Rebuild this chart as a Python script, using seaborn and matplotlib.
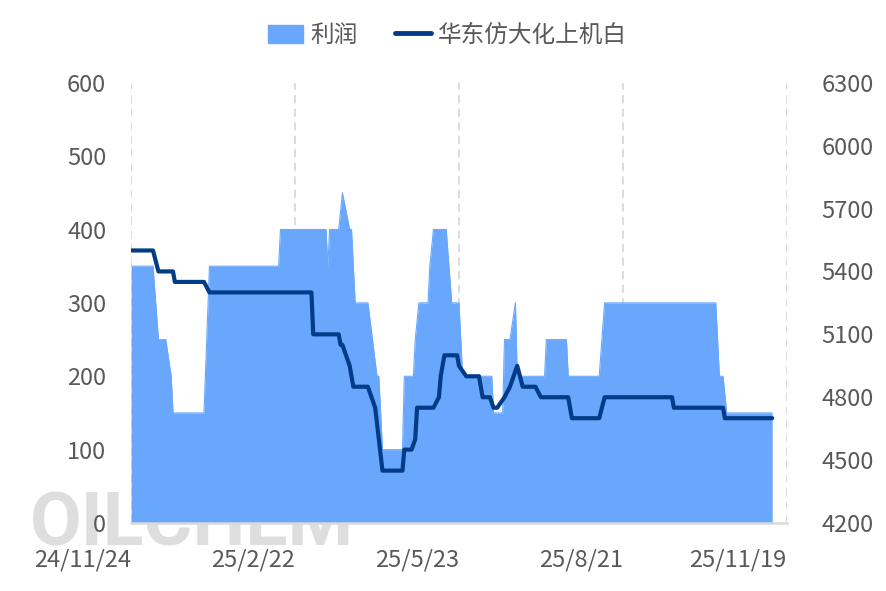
import pandas as pd
import matplotlib.pyplot as plt
import matplotlib.patches as mpatches
import matplotlib.lines as mlines
import seaborn as sns

# 利润 (left axis)
profit_dates = ['2024-11-24', '2024-12-06', '2024-12-09', '2024-12-13', '2024-12-16', '2024-12-17',
                '2025-01-03', '2025-01-06', '2025-02-13', '2025-02-14', '2025-03-11', '2025-03-12',
                '2025-03-13', '2025-03-18', '2025-03-20', '2025-03-24', '2025-03-25', '2025-03-27',
                '2025-04-03', '2025-04-08', '2025-04-09', '2025-04-11', '2025-04-22', '2025-04-23',
                '2025-04-28', '2025-04-29', '2025-05-01', '2025-05-06', '2025-05-07', '2025-05-09',
                '2025-05-16', '2025-05-19', '2025-05-23', '2025-05-25', '2025-06-10', '2025-06-11',
                '2025-06-16', '2025-06-17', '2025-06-20', '2025-06-23', '2025-06-24', '2025-07-09',
                '2025-07-10', '2025-07-21', '2025-07-22', '2025-08-08', '2025-08-11', '2025-10-11',
                '2025-10-13', '2025-10-15', '2025-10-17', '2025-11-11']
profit_values = [350, 350, 250, 250, 200, 150,
                 150, 350, 350, 400, 400, 350,
                 400, 400, 450, 400, 400, 300,
                 300, 200, 200, 100, 100, 200,
                 200, 250, 300, 300, 350, 400,
                 400, 300, 300, 200, 200, 150,
                 150, 250, 250, 300, 200, 200,
                 250, 250, 200, 200, 300, 300,
                 200, 200, 150, 150]

# 华东仿大化上机白 (right axis)
price_dates = ['2024-11-24', '2024-12-06', '2024-12-09', '2024-12-17', '2024-12-18', '2025-01-03',
               '2025-01-06', '2025-03-03', '2025-03-04', '2025-03-18', '2025-03-19', '2025-03-20',
               '2025-03-24', '2025-03-26', '2025-04-03', '2025-04-07', '2025-04-11', '2025-04-22',
               '2025-04-23', '2025-04-27', '2025-04-29', '2025-04-30', '2025-05-09', '2025-05-12',
               '2025-05-13', '2025-05-15', '2025-05-22', '2025-05-23', '2025-05-27', '2025-06-03',
               '2025-06-05', '2025-06-09', '2025-06-11', '2025-06-13', '2025-06-17', '2025-06-20',
               '2025-06-24', '2025-06-27', '2025-07-04', '2025-07-07', '2025-07-22', '2025-07-24',
               '2025-08-08', '2025-08-11', '2025-09-17', '2025-09-18', '2025-10-15', '2025-10-16',
               '2025-11-11']
price_values = [5500, 5500, 5400, 5400, 5350, 5350,
                5300, 5300, 5100, 5100, 5050, 5050,
                4950, 4850, 4850, 4750, 4450, 4450,
                4550, 4550, 4600, 4750, 4750, 4800,
                4900, 5000, 5000, 4950, 4900, 4900,
                4800, 4800, 4750, 4750, 4800, 4850,
                4950, 4850, 4850, 4800, 4800, 4700,
                4700, 4800, 4800, 4750, 4750, 4700,
                4700]

tick_dates = ['2024-11-24', '2025-02-22', '2025-05-23', '2025-08-21', '2025-11-19']
tick_labels = ['24/11/24', '25/2/22', '25/5/23', '25/8/21', '25/11/19']

profit = pd.DataFrame({'date': pd.to_datetime(profit_dates), 'value': profit_values})
price = pd.DataFrame({'date': pd.to_datetime(price_dates), 'value': price_values})

sns.set_style('white')
plt.rcParams['font.family'] = ['Noto Sans CJK SC', 'DejaVu Sans']

area_color = '#69A7FC'
line_color = '#023C88'
text_color = '#595959'
grid_color = '#D9D9D9'

fig, ax1 = plt.subplots(figsize=(8.86, 5.91), dpi=100)
fig.subplots_adjust(left=0.148, right=0.888, bottom=0.115, top=0.860)

# watermark behind the area
ax1.text(-0.154, -0.05, 'OILCHEM', transform=ax1.transAxes, fontsize=54, fontweight='bold',
         color='#DEDEDE', ha='left', va='baseline', zorder=0.5, clip_on=False, family='Roboto')

ax1.fill_between(profit['date'], profit['value'], color=area_color, lw=0, zorder=2)
sns.lineplot(data=profit, x='date', y='value', ax=ax1, color=area_color, lw=0.8, zorder=2)

ax2 = ax1.twinx()
sns.lineplot(data=price, x='date', y='value', ax=ax2, color=line_color, lw=3, zorder=3)

ax1.set_xlim(pd.Timestamp(tick_dates[0]), pd.Timestamp(tick_dates[-1]))
ax1.set_ylim(0, 600)
ax2.set_ylim(4200, 6300)
ax1.set_yticks(range(0, 601, 100))
ax2.set_yticks(range(4200, 6301, 300))
ax1.set_xticks(pd.to_datetime(tick_dates))
ax1.set_xticklabels(tick_labels, ha='right')

for ax in (ax1, ax2):
    ax.set_xlabel('')
    ax.set_ylabel('')
    for s in ax.spines.values():
        s.set_visible(False)
    ax.tick_params(length=0, labelsize=17, labelcolor=text_color)
ax1.spines['bottom'].set_visible(True)
ax1.spines['bottom'].set_color(grid_color)
ax1.spines['bottom'].set_linewidth(1.8)
ax1.spines['bottom'].set_zorder(4)
ax1.tick_params(axis='y', pad=18)
ax2.tick_params(axis='y', pad=25)
ax1.tick_params(axis='x', pad=18)

ax1.grid(False)
ax2.grid(False)
for d in tick_dates:
    ax1.axvline(pd.Timestamp(d), color=grid_color, lw=1.3, ls=(0, (4.5, 3)), zorder=1)

handles = [mpatches.Patch(color=area_color, label='利润'),
           mlines.Line2D([], [], color=line_color, lw=3.5, label='华东仿大化上机白')]
fig.legend(handles=handles, loc='center', bbox_to_anchor=(0.505, 0.94), ncol=2, frameon=False,
           fontsize=17, labelcolor=text_color, handlelength=1.5, handleheight=0.8,
           handletextpad=0.3, columnspacing=1.6)

plt.savefig('out.png', dpi=100)
